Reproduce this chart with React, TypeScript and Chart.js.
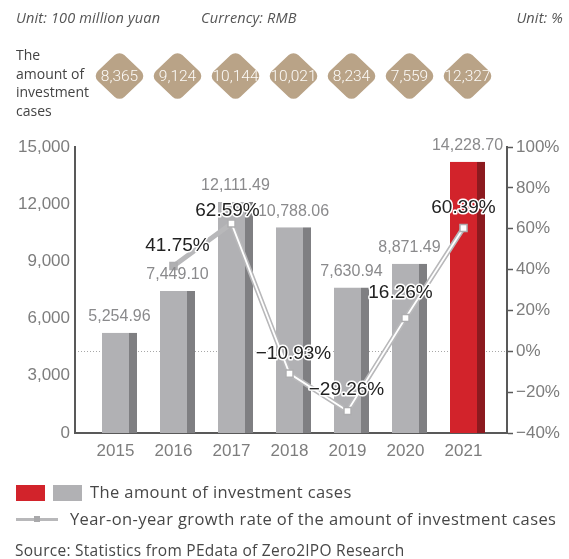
import React, { useEffect, useRef } from 'react';
import { Chart, registerables } from 'chart.js';

Chart.register(...registerables);

// ---- data ----
const years = ['2015', '2016', '2017', '2018', '2019', '2020', '2021'];
const amounts = [5254.96, 7449.1, 12111.49, 10788.06, 7630.94, 8871.49, 14228.7];
const growthYears = ['2016', '2017', '2018', '2019', '2020', '2021'];
const growthRates = [41.75, 62.59, -10.93, -29.26, 16.26, 60.39];
const caseCounts = [8365, 9124, 10144, 10021, 8234, 7559, 12327];
const leftTickStep = 3000;
const leftMax = 15000;
const rightMin = -40;
const rightMax = 100;
const rightTickStep = 20;
// label nudges (px) for the growth labels, relative to default placement
const growthLabelNudge = [
  [4, 0],
  [-4, 7],
  [4, 0],
  [-1, -1],
  [-5, -5],
  [0, 0],
];

const TICK_FONT = 'Liberation Sans, Arial, sans-serif';
const UI_FONT = '"Open Sans", "Noto Sans", sans-serif';
const GRAY_BAR = '#b1b1b4';
const GRAY_SIDE = '#7f7f82';
const RED_BAR = '#d2232b';
const RED_SIDE = '#8c1a1f';
const AXIS = '#595959';
const TICK_TEXT = '#7d7d7d';
const LINE_GRAY = '#b8b8ba';
const DIAMOND = '#b9a387';

const minus = (v: number) => (v < 0 ? '\u2212' + Math.abs(v) : String(v));

export default function App() {
  const ref = useRef<HTMLCanvasElement | null>(null);

  useEffect(() => {
    const canvas = ref.current;
    if (!canvas) return;
    const lastIdx = years.length - 1;
    const barData = amounts.map((v, i) => ({ x: i, y: v }));
    const lineData = growthYears.map((y, i) => ({ x: years.indexOf(y), y: growthRates[i] }));

    const labelPlugin = {
      id: 'labels',
      afterDatasetsDraw(chart: any) {
        const ctx = chart.ctx;
        ctx.save();
        // bar value labels
        const barMeta = chart.getDatasetMeta(2);
        ctx.font = '16px ' + TICK_FONT;
        ctx.fillStyle = '#8a8a8c';
        ctx.textAlign = 'center';
        ctx.textBaseline = 'middle';
        barMeta.data.forEach((el: any, i: number) => {
          const txt = amounts[i].toLocaleString('en-US', { minimumFractionDigits: 2, maximumFractionDigits: 2 });
          ctx.fillText(txt, el.x, el.y - 16);
        });
        // growth labels
        const lineMeta = chart.getDatasetMeta(0);
        ctx.font = '19px ' + TICK_FONT;
        ctx.lineJoin = 'round';
        lineMeta.data.forEach((el: any, i: number) => {
          const txt = minus(growthRates[i]) + '%';
          const [dx, dy] = growthLabelNudge[i];
          const x = el.x + dx;
          const y = el.y - 20 + dy;
          ctx.lineWidth = 3;
          ctx.strokeStyle = '#ffffff';
          ctx.strokeText(txt, x, y);
          ctx.fillStyle = '#222222';
          ctx.fillText(txt, x, y);
        });
        ctx.restore();
      },
      afterDraw(chart: any) {
        const ctx = chart.ctx;
        const xb = chart.scales.xb;
        const cy = 76;
        const w = 27;
        const h = 25.5;
        const r = 7;
        ctx.save();
        caseCounts.forEach((v, i) => {
          const cx = xb.getPixelForValue(i);
          const pts = [
            [cx, cy - h],
            [cx + w, cy],
            [cx, cy + h],
            [cx - w, cy],
          ];
          ctx.beginPath();
          ctx.moveTo((pts[3][0] + pts[0][0]) / 2, (pts[3][1] + pts[0][1]) / 2);
          for (let k = 0; k < 4; k++) {
            const a = pts[k];
            const b = pts[(k + 1) % 4];
            ctx.arcTo(a[0], a[1], b[0], b[1], r);
          }
          ctx.closePath();
          ctx.fillStyle = DIAMOND;
          ctx.fill();
          ctx.fillStyle = '#fdfbf8';
          ctx.font = '300 15.5px Roboto, sans-serif';
          ctx.textAlign = 'center';
          ctx.textBaseline = 'middle';
          ctx.fillText(v.toLocaleString('en-US'), cx, cy + 1, 47);
        });
        ctx.restore();
      },
    };

    // pixel-space geometry of the category axis: light-bar centres 58px apart
    const xMin = -0.6983;
    const xMax = 6.75;
    const sideShift = 4 / 58;

    const chart = new Chart(canvas, {
      type: 'bar',
      data: {
        datasets: [
          {
            type: 'line',
            label: 'growth',
            data: lineData as any,
            xAxisID: 'x',
            yAxisID: 'y1',
            borderColor: '#ffffff',
            borderWidth: 1.8,
            segment: {
              borderColor: (c: any) => (c.p0DataIndex === 0 ? 'rgba(0,0,0,0)' : '#ffffff'),
            },
            pointStyle: 'rect',
            pointRadius: 5,
            pointBackgroundColor: lineData.map((_, i) => (i === 0 ? '#b0b0b2' : '#ffffff')),
            pointBorderColor: '#adadaf',
            pointBorderWidth: 1.5,
            tension: 0,
            fill: false,
            order: 0,
          } as any,
          {
            type: 'line',
            label: 'growth-outline',
            data: lineData as any,
            xAxisID: 'x',
            yAxisID: 'y1',
            borderColor: LINE_GRAY,
            borderWidth: 5,
            pointRadius: 0,
            tension: 0,
            fill: false,
            order: 1,
          } as any,
          {
            type: 'bar',
            label: 'amount',
            data: barData as any,
            xAxisID: 'xb',
            yAxisID: 'y',
            grouped: false,
            backgroundColor: amounts.map((_, i) => (i === lastIdx ? RED_BAR : GRAY_BAR)),
            borderColor: amounts.map((_, i) => (i === lastIdx ? RED_SIDE : GRAY_SIDE)),
            borderWidth: { top: 0, right: 8, bottom: 0, left: 0 },
            borderSkipped: false,
            barThickness: 35,
            inflateAmount: 0,
            order: 2,
          } as any,
        ],
      },
      options: {
        animation: false,
        responsive: false,
        devicePixelRatio: 1,
        layout: { padding: { top: 147, bottom: 86, left: 0, right: 0 } },
        plugins: { legend: { display: false }, tooltip: { enabled: false } },
        scales: {
          x: {
            type: 'linear',
            position: 'bottom',
            min: xMin,
            max: xMax,
            offset: false,
            grid: { display: false, drawTicks: false, offset: false },
            border: { display: true, color: AXIS, width: 2 },
            afterBuildTicks: (s: any) => {
              s.ticks = years.map((_, i) => ({ value: i }));
            },
            ticks: {
              autoSkip: false,
              maxRotation: 0,
              padding: 8,
              color: TICK_TEXT,
              font: { family: TICK_FONT, size: 17 },
              callback: (v: any) => years[v] ?? '',
            },
            afterFit: (s: any) => {
              s.height = 40;
            },
          },
          xb: {
            type: 'linear',
            position: 'bottom',
            display: false,
            offset: false,
            grid: { offset: false },
            min: xMin - sideShift,
            max: xMax - sideShift,
          },
          y: {
            position: 'left',
            min: 0,
            max: leftMax,
            grid: { display: false, drawTicks: false },
            border: { display: true, color: AXIS, width: 2 },
            ticks: {
              stepSize: leftTickStep,
              padding: 5,
              color: TICK_TEXT,
              font: { family: TICK_FONT, size: 17 },
              callback: (v: any) => Number(v).toLocaleString('en-US'),
            },
            afterFit: (s: any) => {
              s.width = 75;
            },
          },
          y1: {
            position: 'right',
            min: rightMin,
            max: rightMax,
            grid: {
              drawOnChartArea: true,
              drawTicks: true,
              tickLength: 6,
              tickWidth: 1.5,
              tickColor: AXIS,
              lineWidth: 1,
              color: (c: any) => (c.tick && c.tick.value === 0 ? '#a8a8a8' : 'rgba(0,0,0,0)'),
            },
            border: { display: true, color: AXIS, width: 2, dash: [1, 2] },
            ticks: {
              stepSize: rightTickStep,
              padding: 3,
              color: TICK_TEXT,
              font: { family: TICK_FONT, size: 17 },
              callback: (v: any) => minus(Number(v)) + '%',
            },
            afterFit: (s: any) => {
              s.width = 62;
            },
          },
        } as any,
      },
      plugins: [labelPlugin],
    });
    return () => chart.destroy();
  }, []);

  const text = (extra: React.CSSProperties): React.CSSProperties => ({
    position: 'absolute',
    fontFamily: UI_FONT,
    color: '#474747',
    whiteSpace: 'nowrap',
    lineHeight: '20px',
    ...extra,
  });

  return (
    <div style={{ position: 'absolute', left: 0, top: 0, width: 569, height: 559, background: '#fff', overflow: 'hidden' }}>
      <canvas ref={ref} width={569} height={559} style={{ position: 'absolute', left: 0, top: 0, width: 569, height: 559 }} />
      <div style={text({ left: 16, top: 8, fontSize: 14.5, letterSpacing: 0.15, fontStyle: 'italic', color: '#555' })}>Unit: 100 million yuan</div>
      <div style={text({ left: 201, top: 8, fontSize: 14.5, letterSpacing: 0.15, fontStyle: 'italic', color: '#555' })}>Currency: RMB</div>
      <div style={text({ right: 6, top: 8, fontSize: 14.5, letterSpacing: 0.15, fontStyle: 'italic', color: '#555' })}>Unit: %</div>
      <div style={text({ left: 16, top: 46, fontSize: 14, lineHeight: '18.5px', whiteSpace: 'normal', width: 80, color: '#444' })}>
        The<br />amount of<br />investment<br />cases
      </div>
      {/* legend */}
      <div style={{ position: 'absolute', left: 16, top: 485, width: 29, height: 16, background: RED_BAR }} />
      <div style={{ position: 'absolute', left: 53, top: 485, width: 29, height: 16, background: GRAY_BAR }} />
      <div style={text({ left: 90, top: 482, fontSize: 16.5, letterSpacing: 0.4 })}>The amount of investment cases</div>
      <div style={{ position: 'absolute', left: 16, top: 517.5, width: 42, height: 3, background: LINE_GRAY }} />
      <div style={{ position: 'absolute', left: 34, top: 516, width: 6, height: 6, background: '#a9a9ab' }} />
      <div style={text({ left: 70, top: 509, fontSize: 16.5, letterSpacing: 0.4 })}>Year-on-year growth rate of the amount of investment cases</div>
      <div style={text({ left: 15, top: 540, fontSize: 15.5, letterSpacing: 0.27 })}>Source: Statistics from PEdata of Zero2IPO Research</div>
    </div>
  );
}
